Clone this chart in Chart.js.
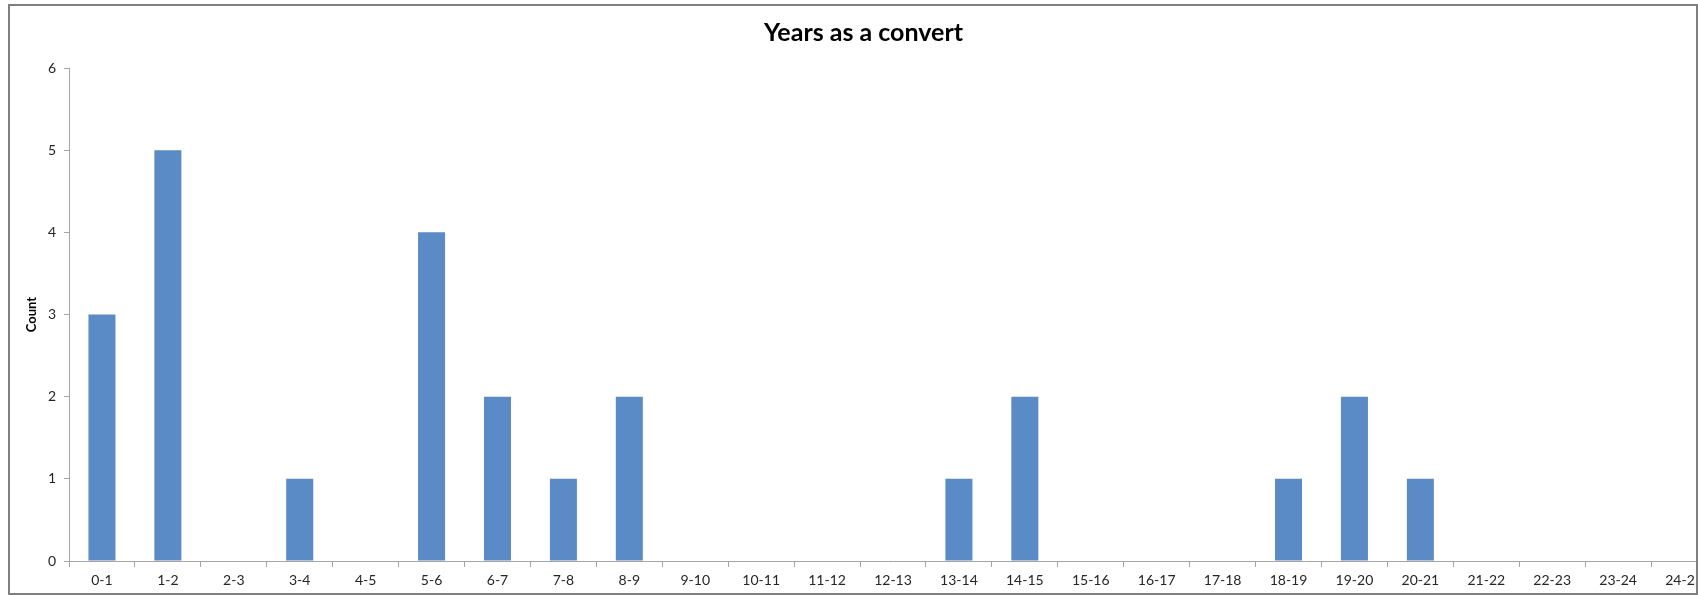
<!DOCTYPE html>
<html>
<head>
<meta charset="utf-8">
<script src="https://cdn.jsdelivr.net/npm/chart.js@4/dist/chart.umd.min.js"></script>
<style>
  html, body { margin: 0; padding: 0; background: #ffffff; overflow: hidden; }
  #frame {
    position: absolute; left: 8px; top: 4px;
    width: 1686px; height: 587px;
    border: 2px solid #7f7f7f;
    overflow: hidden; background: #ffffff;
  }
  #wrap { position: absolute; left: 0; top: 0; width: 1720px; height: 587px; }
</style>
</head>
<body>
<div id="frame"><div id="wrap"><canvas id="c"></canvas></div></div>
<script>
// Year ranges and how many respondents fall in each
const categories = ['0-1','1-2','2-3','3-4','4-5','5-6','6-7','7-8','8-9','9-10','10-11','11-12','12-13',
  '13-14','14-15','15-16','16-17','17-18','18-19','19-20','20-21','21-22','22-23','23-24','24-25'];
const counts = [3,5,0,1,0,4,2,1,2,0,0,0,0,1,2,0,0,0,1,2,1,0,0,0,0];
const yTicks = [0,1,2,3,4,5,6];

const axisGray = '#a6a6a6';
const font = 'Lato, "Open Sans", sans-serif';

new Chart(document.getElementById('c'), {
  type: 'bar',
  data: {
    labels: categories,
    datasets: [{
      label: 'Count',
      data: counts,
      backgroundColor: '#5b8bc6',
      borderColor: '#5b8bc6',
      borderWidth: 0,
      barPercentage: 0.41,
      categoryPercentage: 1.0
    }]
  },
  options: {
    responsive: true,
    maintainAspectRatio: false,
    animation: false,
    layout: { padding: { left: 0, right: 13, top: 0, bottom: 0 } },
    plugins: {
      legend: { display: false },
      tooltip: { enabled: false },
      title: {
        display: true,
        text: 'Years as a convert',
        color: '#000000',
        font: { family: font, size: 25, weight: 'bold' },
        padding: { top: 12, bottom: 20 }
      }
    },
    scales: {
      x: {
        grid: { display: true, drawOnChartArea: false, drawTicks: true, tickLength: 6, color: axisGray, offset: true },
        border: { display: true, color: axisGray, width: 1 },
        ticks: { color: '#262626', font: { family: font, size: 14 }, padding: 5, maxRotation: 0, autoSkip: false },
        afterFit: (axis) => { axis.height = 32; }
      },
      y: {
        min: 0, max: 6,
        afterBuildTicks: (axis) => { axis.ticks = yTicks.map(v => ({ value: v })); },
        grid: { display: true, drawOnChartArea: false, drawTicks: true, tickLength: 5, color: axisGray },
        border: { display: true, color: axisGray, width: 1 },
        ticks: { color: '#262626', font: { family: font, size: 14 }, padding: 8 },
        title: {
          display: true, text: 'Count', color: '#000000',
          font: { family: font, size: 13, weight: 'bold' },
          padding: { top: 14, bottom: 0 }
        },
        afterFit: (axis) => { axis.width = 59; }
      }
    }
  }
});
</script>
</body>
</html>
